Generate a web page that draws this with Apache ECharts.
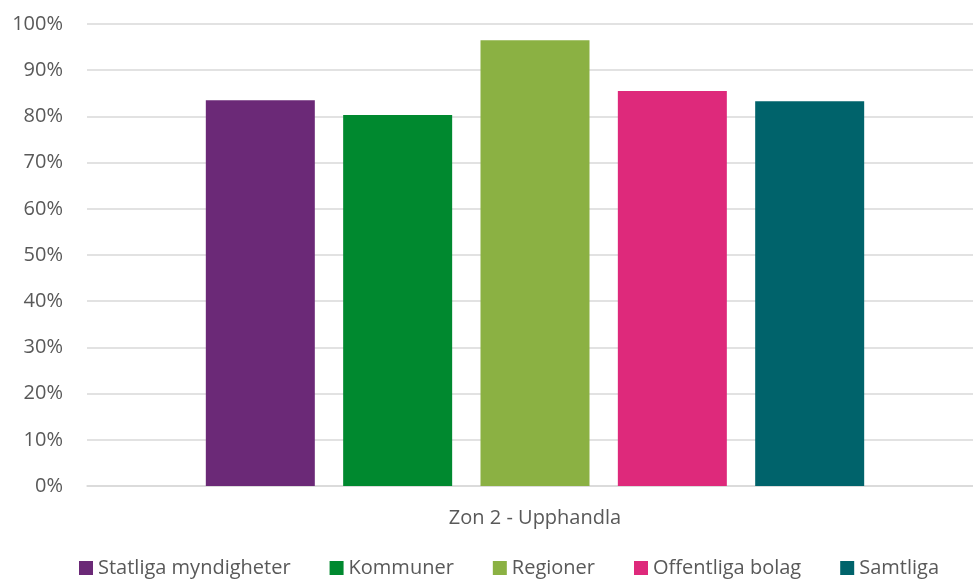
<!DOCTYPE html>
<html>
<head>
<meta charset="utf-8">
<script src="https://cdn.jsdelivr.net/npm/echarts@6/dist/echarts.min.js"></script>
<style>
  html, body { margin: 0; padding: 0; background: #fff; }
  #chart { width: 973px; height: 581px; }
</style>
</head>
<body>
<div id="chart"></div>
<script>
// data
const categories = ['Zon 2 - Upphandla'];
const seriesNames = ['Statliga myndigheter', 'Kommuner', 'Regioner', 'Offentliga bolag', 'Samtliga'];
const seriesValues = [[83.5], [80.3], [96.5], [85.5], [83.3]];
const seriesColors = ['#6b2977', '#00892f', '#8bb143', '#de297b', '#00636b'];

const fontFamily = '"Open Sans", "Noto Sans", sans-serif';

const chart = echarts.init(document.getElementById('chart'));

const option = {
  animation: false,
  grid: {
    left: 87,
    right: -10,
    top: 24,
    bottom: 95,
    containLabel: false,
    outerBoundsMode: 'none',
  },
  legend: {
    bottom: -2,
    left: 74,
    itemWidth: 14,
    itemHeight: 14,
    itemGap: 39,
    icon: 'rect',
    textStyle: {
      fontFamily,
      fontSize: 20,
      color: '#595959',
    },
    data: seriesNames,
  },
  xAxis: {
    type: 'category',
    data: categories,
    axisTick: { show: false },
    axisLine: { lineStyle: { color: '#d9d9d9', width: 1.5 } },
    axisLabel: {
      fontFamily,
      fontSize: 20,
      color: '#595959',
      margin: 22,
    },
  },
  yAxis: {
    type: 'value',
    min: 0,
    max: 100,
    interval: 10,
    axisLine: { show: false },
    axisTick: { show: false },
    splitLine: { lineStyle: { color: '#d9d9d9', width: 1.5 } },
    axisLabel: {
      formatter: '{value}%',
      fontFamily,
      fontSize: 20,
      color: '#595959',
      margin: 24,
    },
  },
  series: seriesNames.map((name, i) => ({
    name,
    type: 'bar',
    data: seriesValues[i],
    barWidth: 109,
    barGap: '26%',
    itemStyle: { color: seriesColors[i] },
  })),
};

chart.setOption(option);
</script>
</body>
</html>
